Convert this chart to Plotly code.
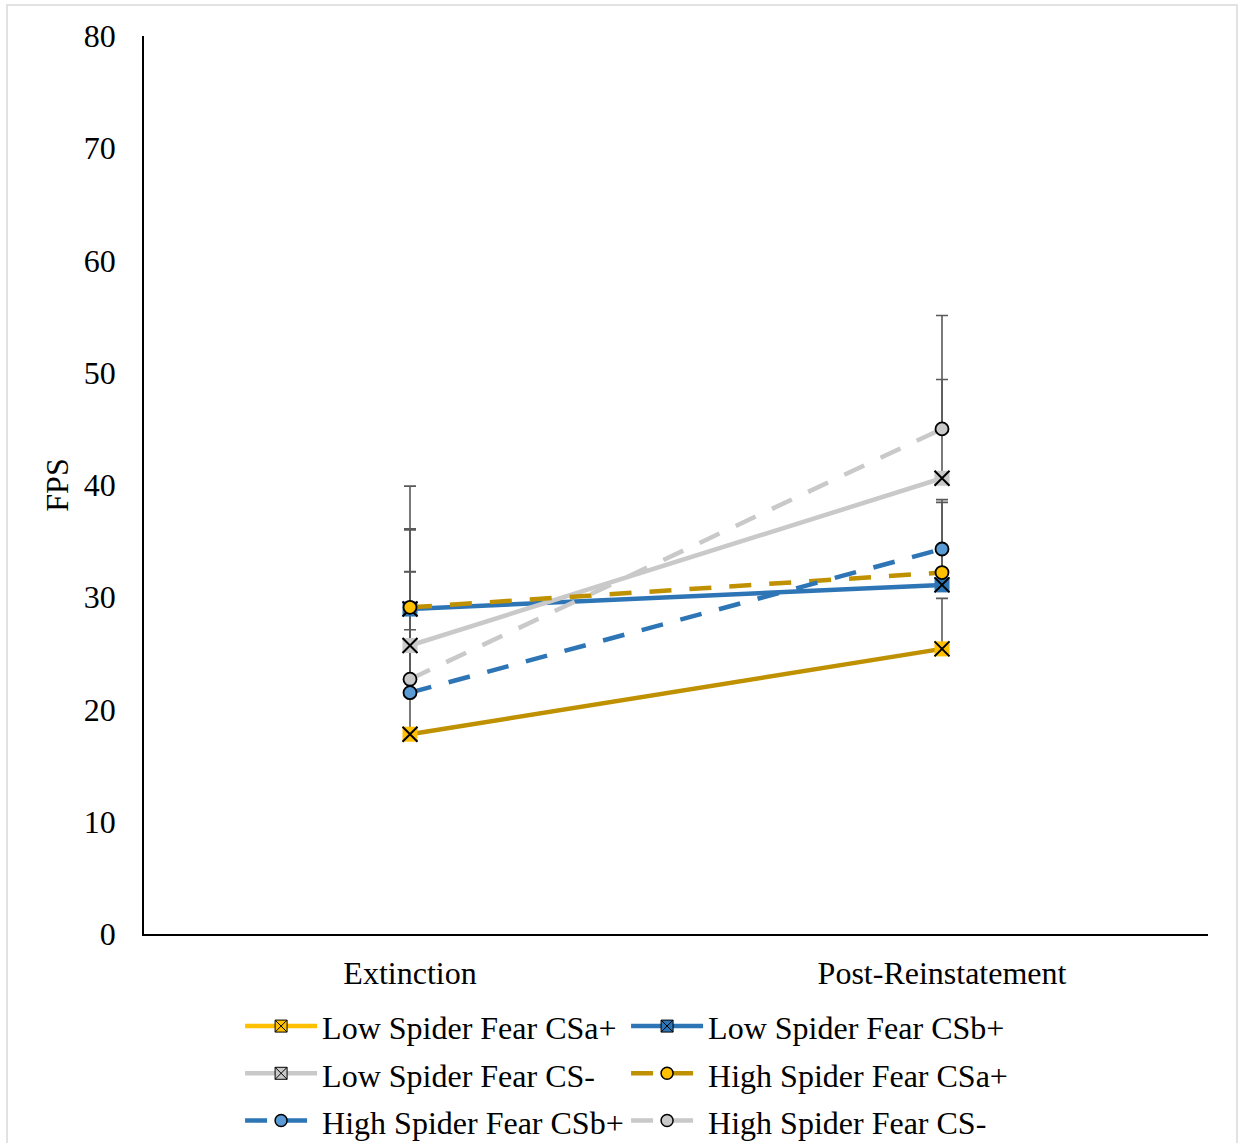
import plotly.graph_objects as go

phases = ["Extinction", "Post-Reinstatement"]
series_names = [
    "Low Spider Fear CSa+", "Low Spider Fear CSb+", "Low Spider Fear CS-",
    "High Spider Fear CSa+", "High Spider Fear CSb+", "High Spider Fear CS-",
]
low_csa = [17.8, 25.4]
low_csb = [28.95, 31.1]
low_csm = [25.7, 40.6]
high_csa = [29.1, 32.2]
high_csb = [21.5, 34.3]
high_csm = [22.7, 45.0]

err_low_csa = [9.3, 4.5]
err_low_csb = [3.3, 3.2]
err_low_csm = [6.6, 8.8]
err_high_csa = [7.0, 6.25]
err_high_csb = [18.4, 4.4]
err_high_csm = [13.3, 10.1]

y_ticks = [0, 10, 20, 30, 40, 50, 60, 70, 80]

values = [low_csa, low_csb, low_csm, high_csa, high_csb, high_csm]
errors = [err_low_csa, err_low_csb, err_low_csm, err_high_csa, err_high_csb, err_high_csm]
line_colors = ["#BF9000", "#2E75B6", "#C9C9C9", "#BF9000", "#2E75B6", "#C9C9C9"]
legend_line_colors = ["#FFC000", "#2E75B6", "#C9C9C9", "#BF9000", "#2E75B6", "#C9C9C9"]
fill_colors = ["#FFC000", "#2E75B6", "#C9C9C9", "#FFC000", "#5B9BD5", "#C9C9C9"]
dashes = ["solid", "solid", "solid", "22px,18px", "22px,18px", "22px,18px"]
is_low = [True, True, True, False, False, False]

FONT = "Liberation Serif, Times New Roman, serif"
FS = 32
fig = go.Figure()

# error bars (drawn first so markers cover them)
for v, e in zip(values, errors):
    fig.add_trace(go.Scatter(
        x=phases, y=v, mode="markers",
        marker=dict(size=1, color="rgba(0,0,0,0)"),
        error_y=dict(type="data", array=e, arrayminus=[0, 0], symmetric=False,
                     color="#595959", thickness=1.6, width=6),
        showlegend=False, hoverinfo="skip"))

# lines
for i, v in enumerate(values):
    fig.add_trace(go.Scatter(
        x=phases, y=v, mode="lines",
        line=dict(color=line_colors[i], width=4.5, dash=dashes[i]),
        showlegend=False, hoverinfo="skip"))

# markers
for i, v in enumerate(values):
    if is_low[i]:
        fig.add_trace(go.Scatter(
            x=phases, y=v, mode="markers",
            marker=dict(symbol="square", size=15, color=fill_colors[i], line=dict(width=0)),
            showlegend=False, name=series_names[i]))
        fig.add_trace(go.Scatter(
            x=phases, y=v, mode="markers",
            marker=dict(symbol="x-thin", size=15, color="black", line=dict(width=2, color="black")),
            showlegend=False, hoverinfo="skip"))
    else:
        fig.add_trace(go.Scatter(
            x=phases, y=v, mode="markers",
            marker=dict(symbol="circle", size=13, color=fill_colors[i], line=dict(width=1.8, color="black")),
            showlegend=False, name=series_names[i]))

# legend-only entries
for i, name in enumerate(series_names):
    if is_low[i]:
        mk = dict(symbol="square-x", size=12, color=fill_colors[i], line=dict(width=1, color="black"))
    else:
        mk = dict(symbol="circle", size=12, color=fill_colors[i], line=dict(width=1.5, color="black"))
    fig.add_trace(go.Scatter(
        x=[None], y=[None], mode="lines+markers",
        name=f"<span style='font-size:{FS}px'>{name}</span>",
        line=dict(color=legend_line_colors[i], width=4.5, dash=dashes[i]),
        marker=mk, showlegend=True))

fig.update_layout(
    width=1238, height=1143,
    margin=dict(l=144, r=30, t=36, b=209, autoexpand=False),
    paper_bgcolor="white", plot_bgcolor="white",
    font=dict(family=FONT, size=FS, color="black"),
    showlegend=True,
    legend=dict(orientation="h", x=0.0903, xanchor="left", y=-0.0707, yanchor="top",
                font=dict(family=FONT, size=34), itemwidth=72, entrywidth=299,
                bgcolor="rgba(0,0,0,0)", itemclick=False),
    xaxis=dict(type="category", range=[-0.5, 1.5], showgrid=False, zeroline=False,
               showline=True, linecolor="black", linewidth=2, ticks="",
               ticklabelstandoff=10, tickfont=dict(family=FONT, size=FS)),
    yaxis=dict(range=[0, 80], tickvals=y_ticks, showgrid=False, zeroline=False,
               showline=True, linecolor="black", linewidth=1.6, ticks="",
               ticklabelstandoff=20, tickfont=dict(family=FONT, size=FS),
               title=dict(text="FPS", standoff=6, font=dict(family=FONT, size=FS))),
    shapes=[dict(type="rect", xref="paper", yref="paper",
                 x0=(7 - 144) / 1064, x1=(1237 - 144) / 1064,
                 y0=-0.3, y1=(934 - 5) / 898,
                 line=dict(color="#D9D9D9", width=1.5), fillcolor="rgba(0,0,0,0)", layer="below")],
)

fig.write_html("out.html")
